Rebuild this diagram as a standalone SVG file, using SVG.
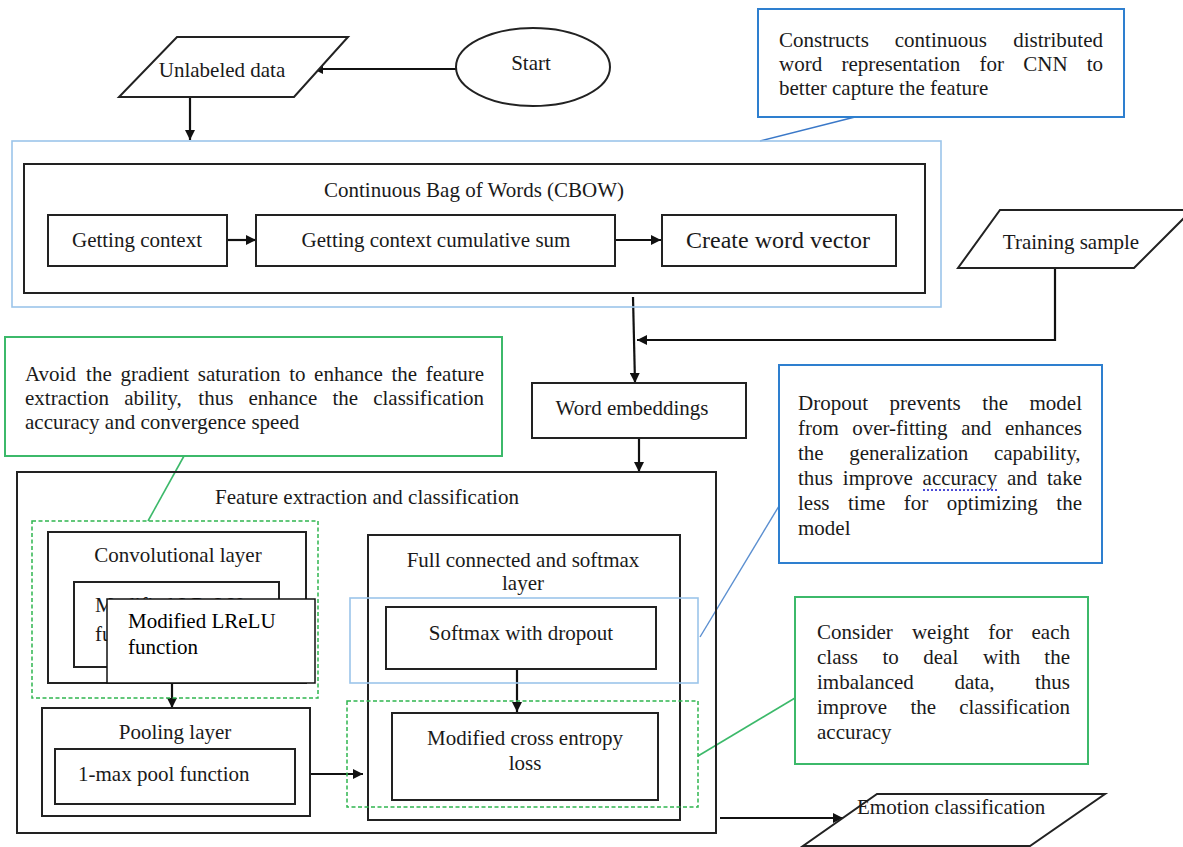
<svg xmlns="http://www.w3.org/2000/svg" width="1183" height="847" viewBox="0 0 1183 847">
<defs>
<marker id="ah" viewBox="0 0 10 10" refX="10" refY="5" markerWidth="10" markerHeight="10" markerUnits="userSpaceOnUse" orient="auto">
<path d="M0,0 L10,5 L0,10 z" fill="#111"/>
</marker>
<style>
text{font-family:'Liberation Serif','DejaVu Serif','Noto Serif',serif;font-size:21px;fill:#1a1a1a}
.c{text-anchor:middle}
.box{fill:#fff;stroke:#222;stroke-width:2}
.boxn{fill:none;stroke:#222;stroke-width:2}
.blue{fill:#fff;stroke:#2e7fcf;stroke-width:2}
.lblue{fill:none;stroke:#9cc5ea;stroke-width:1.6}
.green{fill:#fff;stroke:#3cb96a;stroke-width:2}
.gdash{fill:none;stroke:#2fb54f;stroke-width:1.5;stroke-dasharray:4 2.5}
.arr{fill:none;stroke:#111;stroke-width:2.2;marker-end:url(#ah)}
</style>
</defs>
<rect width="1183" height="847" fill="#fff"/>

<g id="connectors">
<line class="arr" x1="456" y1="69" x2="313" y2="69"/>
<line class="arr" x1="190" y1="97" x2="190" y2="140"/>
<line class="arr" x1="228" y1="240" x2="256" y2="240"/>
<line class="arr" x1="615" y1="240" x2="661" y2="240"/>
<line class="arr" x1="633" y1="297" x2="635" y2="383"/>
<polyline class="arr" points="1055,268 1055,340 637,340"/>
<line class="arr" x1="639" y1="438" x2="639" y2="472"/>
<line class="arr" x1="172" y1="683" x2="172" y2="708"/>
<line class="arr" x1="310" y1="774" x2="363" y2="774"/>
<line class="arr" x1="517" y1="669" x2="517" y2="712"/>
<line class="arr" x1="720" y1="818" x2="843" y2="818"/>
<line x1="855" y1="117" x2="760" y2="141" stroke="#3a78c8" stroke-width="1.6"/>
<line x1="779" y1="506" x2="700" y2="637" stroke="#5b8fd0" stroke-width="1.4"/>
<line x1="795" y1="698" x2="698" y2="756" stroke="#3cb96a" stroke-width="1.6"/>
<line x1="184" y1="456" x2="148" y2="521" stroke="#3cb96a" stroke-width="1.6"/>
</g>

<g id="start">
<ellipse cx="533" cy="67" rx="77" ry="39" class="box"/>
<text class="c" x="531" y="70">Start</text>
</g>

<g id="unlabeled">
<polygon points="177,37 348,37 294,97 119,97" class="box"/>
<text class="c" x="222" y="77">Unlabeled data</text>
</g>

<g id="note-cbow">
<rect x="758" y="9" width="366" height="108" class="blue"/>
<text y="47"><tspan x="779">Constructs</tspan><tspan x="894.8">continuous</tspan><tspan x="1013.2">distributed</tspan></text>
<text y="71"><tspan x="779">word</tspan><tspan x="841.4">representation</tspan><tspan x="979.6">for</tspan><tspan x="1023.3">CNN</tspan><tspan x="1086.7">to</tspan></text>
<text x="779" y="95">better capture the feature</text>
</g>

<g id="cbow">
<rect x="12" y="141" width="929" height="166" class="lblue"/>
<rect x="24" y="164" width="901" height="129" class="boxn"/>
<text class="c" x="474" y="197">Continuous Bag of Words (CBOW)</text>
</g>

<g id="getting-context">
<rect x="48" y="215" width="179" height="51" class="box"/>
<text class="c" x="137" y="247">Getting context</text>
</g>

<g id="cumulative-sum">
<rect x="256" y="215" width="359" height="51" class="box"/>
<text class="c" x="436" y="247">Getting context cumulative sum</text>
</g>

<g id="word-vector">
<rect x="662" y="215" width="234" height="51" class="box"/>
<text class="c" x="778" y="248" style="font-size:24px">Create word vector</text>
</g>

<g id="training-sample">
<polygon points="1000,210 1192,210 1134,268 958,268" class="box"/>
<text class="c" x="1071" y="249">Training sample</text>
</g>

<g id="word-embeddings">
<rect x="532" y="383" width="214" height="55" class="box"/>
<text class="c" x="632" y="415">Word embeddings</text>
</g>

<g id="note-lrelu">
<rect x="5" y="337" width="497" height="119" class="green"/>
<text y="381"><tspan x="25">Avoid</tspan><tspan x="86.1">the</tspan><tspan x="120.4">gradient</tspan><tspan x="197.8">saturation</tspan><tspan x="289.2">to</tspan><tspan x="314.1">enhance</tspan><tspan x="391.5">the</tspan><tspan x="425.8">feature</tspan></text>
<text y="405"><tspan x="25">extraction</tspan><tspan x="124.2">ability,</tspan><tspan x="198.3">thus</tspan><tspan x="248.5">enhance</tspan><tspan x="332.5">the</tspan><tspan x="373.2">classification</tspan></text>
<text x="25" y="429">accuracy and convergence speed</text>
</g>

<g id="note-dropout">
<rect x="779" y="365" width="323" height="198" class="blue"/>
<text y="410"><tspan x="798">Dropout</tspan><tspan x="889.6">prevents</tspan><tspan x="982.3">the</tspan><tspan x="1029.5">model</tspan></text>
<text y="435"><tspan x="798">from</tspan><tspan x="852.2">over-fitting</tspan><tspan x="961.3">and</tspan><tspan x="1005">enhances</tspan></text>
<text y="460"><tspan x="798">the</tspan><tspan x="849.3">generalization</tspan><tspan x="993.9">capability,</tspan></text>
<text y="485"><tspan x="798">thus</tspan><tspan x="842.8">improve</tspan><tspan x="922.6">accuracy</tspan><tspan x="1007">and</tspan><tspan x="1047">take</tspan></text>
<line x1="923" y1="490" x2="997" y2="490" stroke="#4a4ad8" stroke-width="2" stroke-dasharray="2 2"/>
<text y="510"><tspan x="798">less</tspan><tspan x="848">time</tspan><tspan x="903.8">for</tspan><tspan x="946.8">optimizing</tspan><tspan x="1056.3">the</tspan></text>
<text x="798" y="535">model</text>
</g>

<g id="note-loss">
<rect x="795" y="597" width="293" height="167" class="green"/>
<text y="639"><tspan x="817">Consider</tspan><tspan x="911.9">weight</tspan><tspan x="988.2">for</tspan><tspan x="1031.5">each</tspan></text>
<text y="664"><tspan x="817">class</tspan><tspan x="882.4">to</tspan><tspan x="923.3">deal</tspan><tspan x="982.9">with</tspan><tspan x="1044.3">the</tspan></text>
<text y="689"><tspan x="817">imbalanced</tspan><tspan x="954.4">data,</tspan><tspan x="1035">thus</tspan></text>
<text y="714"><tspan x="817">improve</tspan><tspan x="910.4">the</tspan><tspan x="959.2">classification</tspan></text>
<text x="817" y="739">accuracy</text>
</g>

<g id="feature-extraction">
<rect x="17" y="472" width="699" height="361" class="boxn"/>
<text class="c" x="367" y="504">Feature extraction and classification</text>
</g>

<g id="convolutional-layer">
<rect x="32" y="521" width="286" height="177" class="gdash"/>
<rect x="48" y="532" width="258" height="151" class="box"/>
<text class="c" x="178" y="562">Convolutional layer</text>
<rect x="74" y="582" width="205" height="85" class="box"/>
<text x="95" y="612">Modified LReLU</text>
<text x="95" y="641">function</text>
</g>

<g id="lrelu-label">
<rect x="107" y="599" width="208" height="84" fill="#fff" stroke="#111" stroke-width="1.5"/>
<text x="128" y="628" style="fill:#000">Modified LReLU</text>
<text x="128" y="654" style="fill:#000">function</text>
</g>

<g id="pooling-layer">
<rect x="42" y="708" width="268" height="108" class="box"/>
<text class="c" x="175" y="739">Pooling layer</text>
</g>

<g id="max-pool">
<rect x="55" y="749" width="240" height="55" class="box"/>
<text x="78" y="781">1-max pool function</text>
</g>

<g id="full-connected">
<rect x="368" y="535" width="312" height="285" class="boxn"/>
<text class="c" x="523" y="567">Full connected and softmax</text>
<text class="c" x="523" y="590">layer</text>
</g>

<g id="softmax">
<rect x="350" y="598" width="348" height="85" class="lblue"/>
<rect x="386" y="607" width="270" height="62" class="box"/>
<text class="c" x="521" y="640">Softmax with dropout</text>
</g>

<g id="cross-entropy">
<rect x="347" y="701" width="351" height="106" class="gdash"/>
<rect x="392" y="713" width="266" height="87" class="box"/>
<text class="c" x="525" y="745">Modified cross entropy</text>
<text class="c" x="525" y="770">loss</text>
</g>

<g id="emotion-classification">
<polygon points="877,794 1105,794 1030,846 803,846" class="box"/>
<text x="857" y="814">Emotion classification</text>
</g>
</svg>
